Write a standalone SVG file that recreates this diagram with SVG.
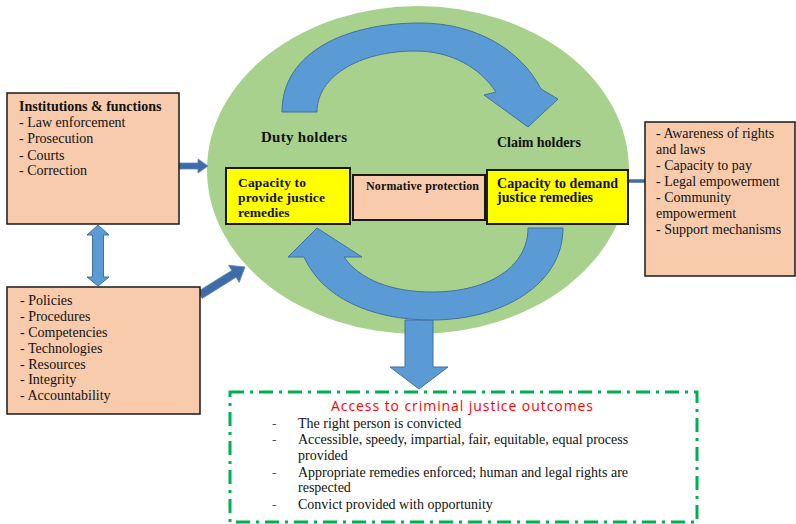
<svg xmlns="http://www.w3.org/2000/svg" width="796" height="524" viewBox="0 0 796 524">
<style>
.peach{fill:#F8CBAD;stroke:#1a1a1a;stroke-width:1.5}
.yel{fill:#FFFF00;stroke:#1a1a1a;stroke-width:2}
.blue{fill:#5B9BD5;stroke:#41719C;stroke-width:1}
.dark{fill:#3E6CA6;stroke:#5B86BF;stroke-width:0.8}
.t{font-family:"Liberation Serif","Times New Roman",serif;font-size:14px;fill:#111}
.b{font-family:"Liberation Serif","Times New Roman",serif;font-weight:bold;font-size:14px;fill:#111}
.bul{font-family:"Liberation Serif",serif;font-size:13px;fill:#2F3F9F}
</style>
<rect width="796" height="524" fill="#fff"/>
<g id="circle">
<ellipse cx="418" cy="170" rx="211" ry="164" fill="#A9D18E"/>
</g>
<g id="connectors">
<path id="down-arrow" class="blue" d="M405,320 L433,320 L433,367 L448,367 L419,389 L390,367 L405,367 Z"/>
<path id="cycle-top" class="blue" d="M282,112 C282,52 346,23 420,23 C476,23 521,50 541,89 L558,99 L528,127 L484,95 L496,92 C480,68 452,51 415,51 C360,51 317,76 317,112 Z"/>
<path id="cycle-bottom" class="blue" d="M563,228 C563,284 503,320 432,320 C370,320 322,297 304,257 L288,257 L317,228 L362,257 L344,257 C360,280 392,292 432,292 C490,292 528,266 528,228 Z"/>
<path id="arrow-inst" class="dark" d="M179,163 L198,163 L198,159 L208,166 L198,173 L198,169 L179,169 Z"/>
<path id="arrow-policies" class="dark" transform="rotate(-32 200 295)" d="M200,291 L240,291 L240,285 L253,295 L240,305 L240,299 L200,299 Z"/>
<path id="arrow-double" class="blue" d="M98,225 L109,235 L103.5,235 L103.5,277 L109,277 L98,286 L87,277 L92.5,277 L92.5,235 L87,235 Z"/>
<line id="line-claim" x1="628" y1="181" x2="645" y2="181" stroke="#3E6CA6" stroke-width="3.5"/>
</g>
<g id="institutions">
<rect class="peach" x="7" y="93" width="172" height="131"/>
<text class="b" x="19" y="111">Institutions &amp; functions</text>
<text class="t" x="19" y="127">- Law enforcement</text>
<text class="t" x="19" y="143">- Prosecution</text>
<text class="t" x="19" y="160">- Courts</text>
<text class="t" x="19" y="175">- Correction</text>
</g>
<g id="policies">
<rect class="peach" x="7" y="287" width="193" height="127"/>
<text class="t" x="20" y="305">- Policies</text>
<text class="t" x="20" y="321">- Procedures</text>
<text class="t" x="20" y="337">- Competencies</text>
<text class="t" x="20" y="353">- Technologies</text>
<text class="t" x="20" y="369">- Resources</text>
<text class="t" x="20" y="384">- Integrity</text>
<text class="t" x="20" y="400">- Accountability</text>
</g>
<g id="claim-factors">
<rect class="peach" x="645" y="122" width="150" height="154"/>
<text class="t" x="656" y="138">- Awareness of rights</text>
<text class="t" x="656" y="154">and laws</text>
<text class="t" x="656" y="170">- Capacity to pay</text>
<text class="t" x="656" y="186">- Legal empowerment</text>
<text class="t" x="656" y="202">- Community</text>
<text class="t" x="656" y="218">empowerment</text>
<text class="t" x="656" y="234">- Support mechanisms</text>
</g>
<g id="duty-holders">
<text class="b" x="261" y="142" style="font-size:15px" textLength="86">Duty holders</text>
</g>
<g id="claim-holders">
<text class="b" x="497" y="147" textLength="84">Claim holders</text>
</g>
<g id="capacity-provide">
<rect class="yel" x="226" y="168" width="124" height="56"/>
<text class="b" x="238" y="187" style="font-size:13.5px" textLength="68">Capacity to</text>
<text class="b" x="238" y="202" style="font-size:13.5px" textLength="87">provide justice</text>
<text class="b" x="238" y="217" style="font-size:13.5px">remedies</text>
</g>
<g id="normative">
<rect class="peach" x="353" y="175" width="132" height="45" style="stroke-width:2"/>
<text class="b" x="366" y="190" style="font-size:12px" textLength="113">Normative protection</text>
</g>
<g id="capacity-demand">
<rect class="yel" x="487" y="170" width="141" height="54"/>
<text class="b" x="497" y="188" textLength="121">Capacity to demand</text>
<text class="b" x="497" y="202" textLength="96">justice remedies</text>
</g>
<g id="outcomes">
<rect x="230" y="392" width="467" height="130" fill="none" stroke="#00B050" stroke-width="3" stroke-dasharray="14 6 3 6"/>
<text x="462" y="411" text-anchor="middle" textLength="262" style="font-family:'Open Sans','Noto Sans',sans-serif;font-size:14px;fill:#FF0000">Access to criminal justice outcomes</text>
<text class="bul" x="272" y="428">-</text>
<text class="t" x="298" y="428">The right person is convicted</text>
<text class="bul" x="272" y="444">-</text>
<text class="t" x="298" y="444">Accessible, speedy, impartial, fair, equitable, equal process</text>
<text class="t" x="298" y="460">provided</text>
<text class="bul" x="272" y="477">-</text>
<text class="t" x="298" y="477">Appropriate remedies enforced; human and legal rights are</text>
<text class="t" x="298" y="492">respected</text>
<text class="bul" x="272" y="509">-</text>
<text class="t" x="298" y="509">Convict provided with opportunity</text>
</g>
</svg>
